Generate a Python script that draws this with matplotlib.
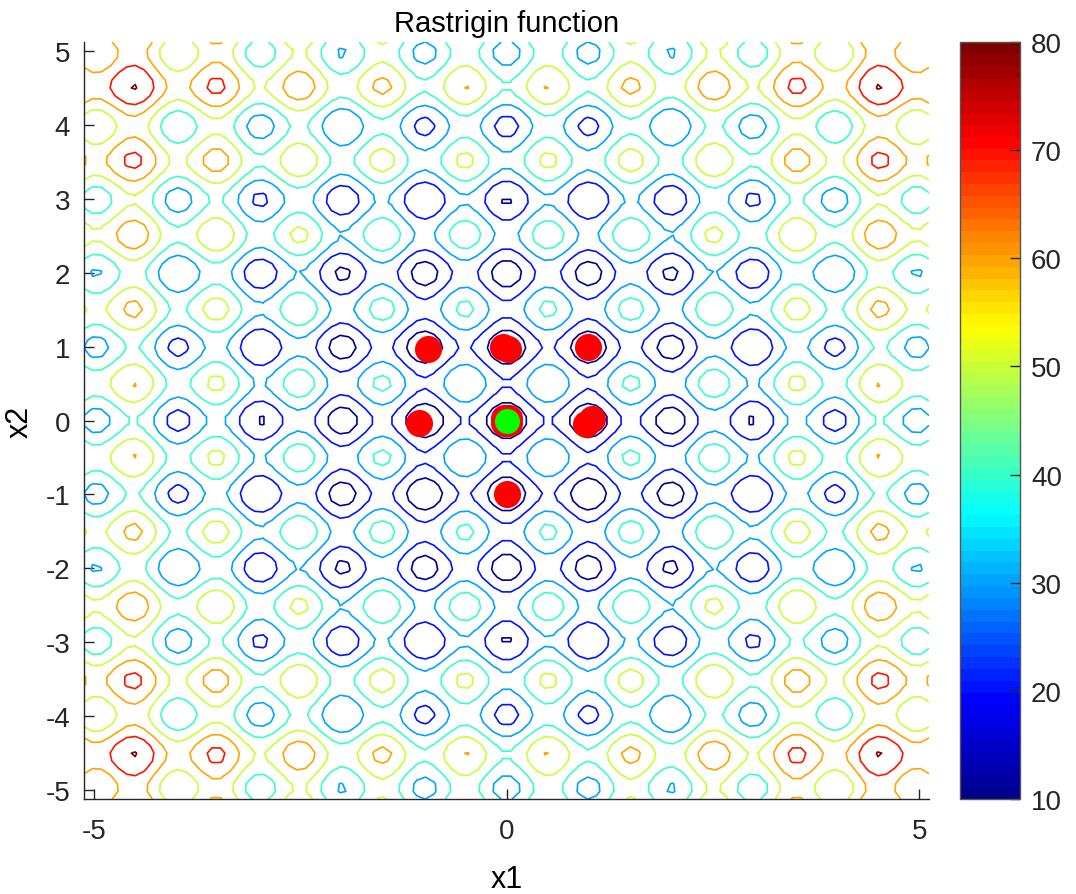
import numpy as np
import matplotlib
matplotlib.use("Agg")
import matplotlib.pyplot as plt
from matplotlib import cm, colors

plt.rcParams['font.family'] = ['Liberation Sans', 'DejaVu Sans']
plt.rcParams['axes.unicode_minus'] = False

# contour levels and colour range
levels = [10, 20, 30, 40, 50, 60, 70, 80]
cbarTicks = [10, 20, 30, 40, 50, 60, 70, 80]
axisTicks = [-5, 0, 5]
yTicks = [-5, -4, -3, -2, -1, 0, 1, 2, 3, 4, 5]

# red points (population near the minima)
redX = [-0.95, -0.04, 0.02, 0.99, -1.06, -0.03, 0.03, -0.03, 0.03, 0.96, 1.03, 0.01]
redY = [0.97, 1.00, 0.97, 0.99, -0.03, 0.04, 0.04, -0.03, -0.03, -0.05, 0.02, -1.00]

# green point (best found)
greenX = [0.0]
greenY = [0.0]

# Rastrigin function on the standard domain
def rastrigin(x, y):
  return 20 + x**2 + y**2 - 10 * (np.cos(2 * np.pi * x) + np.cos(2 * np.pi * y))

grid = np.linspace(-5.12, 5.12, 100)
X, Y = np.meshgrid(grid, grid)
Z = rastrigin(X, Y)

# MATLAB style jet colormap with 64 entries
jetData = {
  'red':   [(0.0, 0.0, 0.0), (0.375, 0.0, 0.0), (0.625, 1.0, 1.0), (0.875, 1.0, 1.0), (1.0, 0.5, 0.5)],
  'green': [(0.0, 0.0, 0.0), (0.125, 0.0, 0.0), (0.375, 1.0, 1.0), (0.625, 1.0, 1.0), (0.875, 0.0, 0.0), (1.0, 0.0, 0.0)],
  'blue':  [(0.0, 0.5625, 0.5625), (0.125, 1.0, 1.0), (0.375, 1.0, 1.0), (0.625, 0.0, 0.0), (1.0, 0.0, 0.0)],
}
jet = colors.LinearSegmentedColormap('matlabJet', jetData, N=64)
norm = colors.Normalize(vmin=10, vmax=80)

fig = plt.figure(figsize=(10.76, 8.95), dpi=100)
ax = fig.add_axes([0.0781, 0.1061, 0.7853, 0.8458])
cax = fig.add_axes([0.892, 0.1061, 0.0558, 0.8458])

ax.contour(X, Y, Z, levels=levels, cmap=jet, norm=norm, linewidths=1.2)
ax.plot(redX, redY, 'o', color='red', markersize=19.5, markeredgewidth=0)
ax.plot(greenX, greenY, 'o', color='#00ff00', markersize=18, markeredgewidth=0)

ax.set_xlim(-5.12, 5.12)
ax.set_ylim(-5.12, 5.12)
ax.set_xticks(axisTicks)
ax.set_yticks(yTicks)
ax.spines['top'].set_visible(False)
ax.spines['right'].set_visible(False)
for side in ['left', 'bottom']:
  ax.spines[side].set_color('#262626')
  ax.spines[side].set_linewidth(1.0)
ax.tick_params(direction='in', length=7, width=1.0, colors='#262626',
               labelsize=20, pad=10)
ax.tick_params(axis='x', pad=14)
ax.set_title("Rastrigin function", fontsize=21, pad=8)
ax.set_xlabel("x1", fontsize=22, labelpad=14)
ax.set_ylabel("x2", fontsize=22, labelpad=8)

sm = cm.ScalarMappable(norm=norm, cmap=jet)
cb = fig.colorbar(sm, cax=cax, ticks=cbarTicks)
cb.outline.set_edgecolor('#555555')
cb.outline.set_linewidth(1.0)
cax.tick_params(direction='in', length=7, width=1.0, colors='#262626',
                labelsize=20, pad=8)

fig.savefig("out.png", dpi=100)
